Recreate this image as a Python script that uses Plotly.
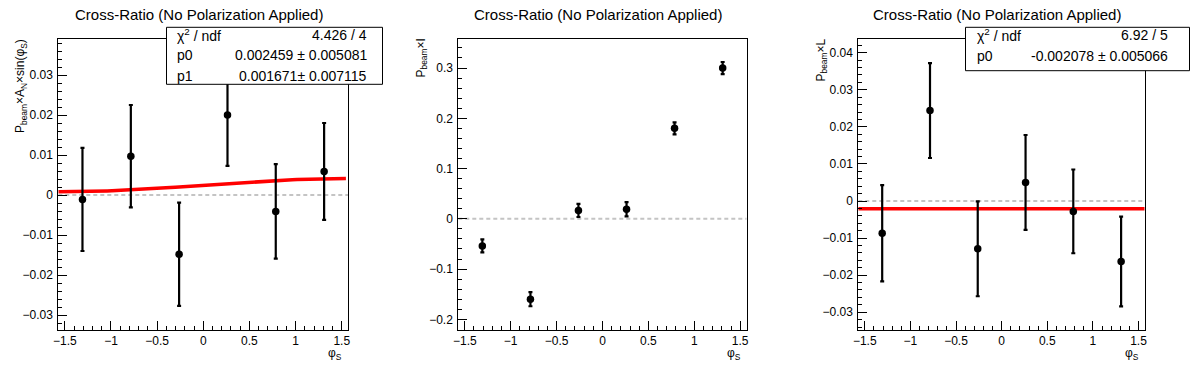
import math
import plotly.graph_objects as go

W, H = 1196, 372

# ---------------- data ----------------
phi = [-1.309, -0.785, -0.262, 0.262, 0.785, 1.309]

an_vals = [-0.0011, 0.0097, -0.0148, 0.0200, -0.0041, 0.0059]
an_errs = [0.0129, 0.0128, 0.0129, 0.0127, 0.0118, 0.0121]

i_vals = [-0.054, -0.160, 0.0166, 0.019, 0.180, 0.300]
i_errs = [0.013, 0.014, 0.013, 0.014, 0.012, 0.012]

l_vals = [-0.0087, 0.0244, -0.0129, 0.0050, -0.0028, -0.0163]
l_errs = [0.0130, 0.0128, 0.0128, 0.0128, 0.0113, 0.0121]

# fit results
fit1_p0, fit1_p1 = 0.002459, 0.001671
fit3_p0 = -0.002078

stat1_labels = ["χ<sup>2</sup> / ndf", "p0", "p1"]
stat1_values = ["4.426 / 4", "0.002459 ± 0.005081", "0.001671± 0.007115"]
stat3_labels = ["χ<sup>2</sup> / ndf", "p0"]
stat3_values = ["6.92 / 5", "-0.002078 ± 0.005066"]

title_text = "Cross-Ratio (No Polarization Applied)"
ytitles = ["P<sub>beam</sub>×A<sub>N</sub>×sin(φ<sub>S</sub>)",
           "P<sub>beam</sub>×I",
           "P<sub>beam</sub>×L"]
xtitle = "φ<sub>S</sub>"

FONT = "Liberation Sans, Arial, Helvetica, sans-serif"


def px(x):
    return x / W


def py(y):
    return 1 - y / H


# frame geometry in pixels
frames = [(58.3, 348.3), (458.3, 746.7), (858.3, 1145.0)]
ftop, fbot = 39.0, 330.0
yranges = [(-0.03375, 0.0390), (-0.2213, 0.3578), (-0.0348, 0.0437)]
ydticks = [0.01, 0.1, 0.01]
xr = (-math.pi / 2, math.pi / 2)

fig = go.Figure()

series = [(an_vals, an_errs), (i_vals, i_errs), (l_vals, l_errs)]
for k, (vals, errs) in enumerate(series):
    xa = "x" if k == 0 else f"x{k+1}"
    ya = "y" if k == 0 else f"y{k+1}"
    # zero dashed line
    fig.add_trace(go.Scatter(x=[xr[0], xr[1]], y=[0, 0], mode="lines",
                             line=dict(color="#c4c4c4", width=2, dash="4px,3px"),
                             xaxis=xa, yaxis=ya, showlegend=False, hoverinfo="skip"))
    # fit lines
    if k == 0:
        n = 60
        xs = [xr[0] + (1.545 - xr[0]) * i / (n - 1) for i in range(n)]
        ys = [fit1_p0 + fit1_p1 * math.sin(x) for x in xs]
        fig.add_trace(go.Scatter(x=xs, y=ys, mode="lines",
                                 line=dict(color="#ff0000", width=3.5),
                                 xaxis=xa, yaxis=ya, showlegend=False))
    if k == 2:
        fig.add_trace(go.Scatter(x=[xr[0], 1.565], y=[fit3_p0, fit3_p0], mode="lines",
                                 line=dict(color="#ff0000", width=3.5),
                                 xaxis=xa, yaxis=ya, showlegend=False))
    fig.add_trace(go.Scatter(
        x=phi, y=vals, mode="markers",
        marker=dict(color="black", size=7.5, symbol="circle"),
        error_y=dict(type="data", array=errs, visible=True, color="black",
                     thickness=2.2, width=2),
        xaxis=xa, yaxis=ya, showlegend=False))

layout = dict(
    width=W, height=H,
    margin=dict(l=0, r=0, t=0, b=0, autoexpand=False),
    paper_bgcolor="white", plot_bgcolor="white",
    font=dict(family=FONT, color="black", size=12),
    showlegend=False,
)

for k in range(3):
    xl, xrgt = frames[k]
    xkey = "xaxis" if k == 0 else f"xaxis{k+1}"
    ykey = "yaxis" if k == 0 else f"yaxis{k+1}"
    anchor_x = "x" if k == 0 else f"x{k+1}"
    anchor_y = "y" if k == 0 else f"y{k+1}"
    layout[xkey] = dict(
        domain=[px(xl), px(xrgt)], range=list(xr), anchor=anchor_y, automargin=False,
        showline=True, linecolor="black", linewidth=1, mirror=True,
        showgrid=False, zeroline=False,
        ticks="inside", ticklen=9, tickcolor="black", tickwidth=1,
        dtick=0.5, tick0=0,
        minor=dict(ticks="inside", ticklen=4, dtick=0.1, tickcolor="black", showgrid=False),
        tickfont=dict(size=12, family=FONT),
    )
    layout[ykey] = dict(
        domain=[py(fbot), py(ftop)], range=list(yranges[k]), anchor=anchor_x, automargin=False,
        showline=True, linecolor="black", linewidth=1, mirror=True,
        showgrid=False, zeroline=False,
        ticks="inside", ticklen=9, tickcolor="black", tickwidth=1,
        dtick=ydticks[k], tick0=0,
        minor=dict(ticks="inside", ticklen=4, dtick=ydticks[k] / 5, tickcolor="black", showgrid=False),
        tickfont=dict(size=12, family=FONT),
        ticklabelstandoff=2,
    )

fig.update_layout(**layout)

annotations = []
shapes = []
pad_centers = [199.3, 598.0, 996.7]
ytitle_x = [21, 421, 821]
for k in range(3):
    annotations.append(dict(text=title_text, xref="paper", yref="paper",
                            x=px(pad_centers[k]), y=py(15), xanchor="center", yanchor="middle",
                            showarrow=False, font=dict(size=15, family=FONT)))
    annotations.append(dict(text=ytitles[k], xref="paper", yref="paper", textangle=-90,
                            x=px(ytitle_x[k]), y=py(37), xanchor="center", yanchor="top",
                            showarrow=False, font=dict(size=12, family=FONT)))
    annotations.append(dict(text=xtitle, xref="paper", yref="paper",
                            x=px(frames[k][1] - 4), y=py(344), xanchor="right", yanchor="top",
                            showarrow=False, font=dict(size=12, family=FONT)))


def stat_box(x0, x1, y0, y1, labels, values, rows_y, lab_x, val_x):
    shapes.append(dict(type="rect", xref="paper", yref="paper",
                       x0=px(x0), x1=px(x1), y0=py(y1), y1=py(y0),
                       line=dict(color="black", width=1), fillcolor="white", layer="above"))
    for lab, val, ry in zip(labels, values, rows_y):
        annotations.append(dict(text=lab, xref="paper", yref="paper", x=px(lab_x), y=py(ry),
                                xanchor="left", yanchor="middle", showarrow=False,
                                font=dict(size=14, family=FONT)))
        annotations.append(dict(text=val, xref="paper", yref="paper", x=px(val_x), y=py(ry),
                                xanchor="right", yanchor="middle", showarrow=False,
                                font=dict(size=14, family=FONT)))


stat_box(166.5, 382.5, 27.3, 84.3, stat1_labels, stat1_values, [35, 55.5, 76], 174.5, 369)
stat_box(965.5, 1189.5, 27.3, 70.7, stat3_labels, stat3_values, [35, 56], 974.5, 1169.5)

fig.update_layout(annotations=annotations, shapes=shapes)
fig.write_html("out.html", config={"displayModeBar": False},
               post_script="document.body.style.margin='0px';document.body.style.padding='0px';")
